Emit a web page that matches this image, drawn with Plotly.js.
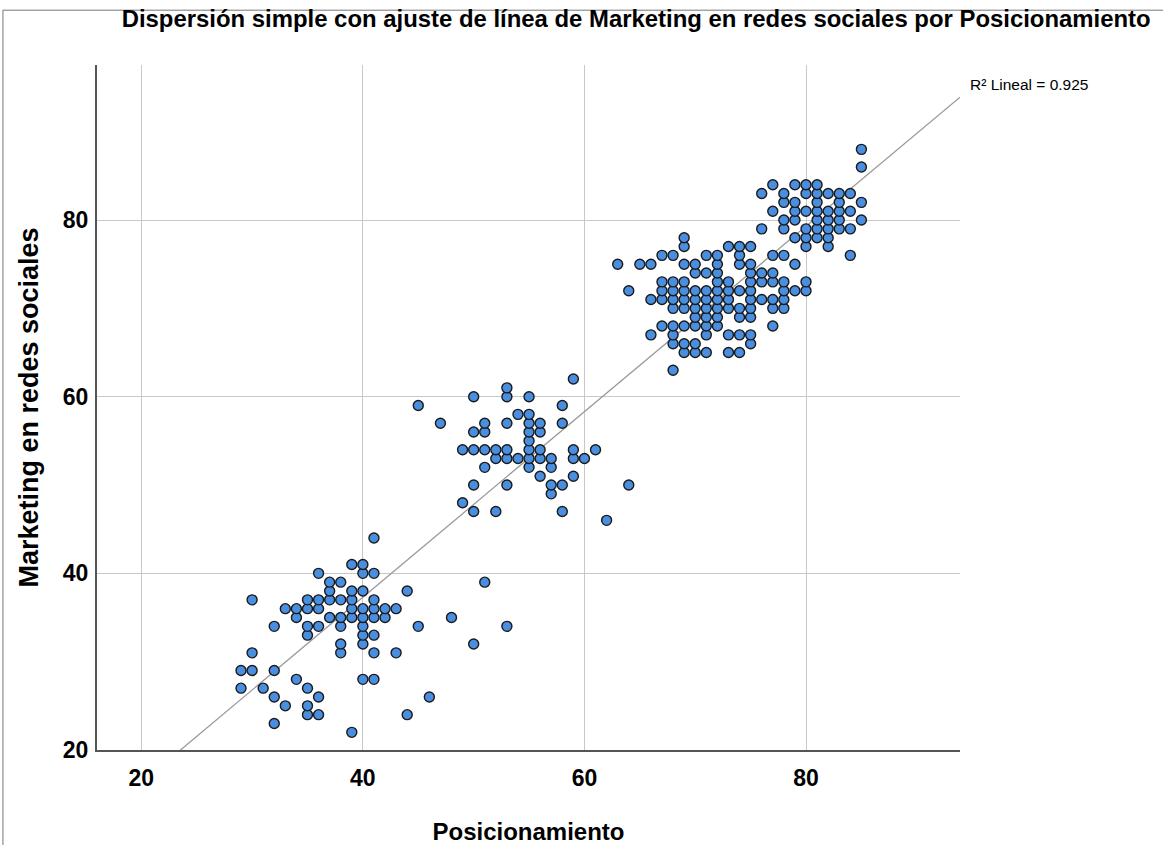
<!DOCTYPE html>
<html><head><meta charset="utf-8">
<script src="https://cdn.plot.ly/plotly-3.0.1.min.js"></script>
<style>body{margin:0;background:#fff}#chart{width:1163px;height:845px}</style>
</head><body><div id="chart"></div>
<script>
// Posicionamiento (x) values
const posicionamiento = [
29,29,30,30,30,31,32,32,32,32,33,33,34,34,34,35,35,35,35,35,35,35,36,36,36,36,36,36,37,37,37,37,38,38,38,38,38,38,39,39,39,39,39,39,40,40,40,40,40,40,40,40,40,41,41,41,41,41,41,41,41,42,42,43,43,44,44,45,46,48,50,51,53,
45,47,49,49,50,50,50,50,50,51,51,51,51,52,52,52,53,53,53,53,53,53,54,54,55,55,55,55,55,55,55,55,56,56,56,56,56,57,57,57,57,58,58,58,58,59,59,59,59,60,61,62,64,
63,64,65,66,66,66,67,67,67,67,67,68,68,68,68,68,68,68,68,68,69,69,69,69,69,69,69,69,69,69,70,70,70,70,70,70,70,70,70,71,71,71,71,71,71,71,71,71,
72,72,72,72,72,72,72,72,72,73,73,73,73,73,73,73,74,74,74,74,74,74,74,74,75,75,75,75,75,75,75,75,75,75,76,76,76,77,77,77,77,77,77,78,78,78,78,78,79,79,80,80,
76,76,77,77,78,78,78,78,79,79,79,79,79,80,80,80,80,80,80,81,81,81,81,81,81,81,82,82,82,82,82,82,83,83,83,83,83,84,84,84,84,85,85,85,85
];
// Marketing en redes sociales (y) values
const marketing = [
27,29,29,31,37,27,23,26,29,34,25,36,28,35,36,24,25,27,33,34,36,37,24,26,34,36,37,40,35,37,38,39,31,32,34,35,37,39,22,35,36,37,38,41,28,32,33,34,35,36,38,40,41,28,31,33,35,36,37,40,44,35,36,31,36,24,38,34,26,35,32,39,34,
59,57,48,54,47,50,54,56,60,52,54,56,57,47,53,54,50,53,54,57,60,61,53,58,52,53,54,55,56,57,58,60,51,53,54,56,57,49,50,52,53,47,50,57,59,51,53,54,62,53,54,46,50,
75,72,75,67,71,75,68,71,72,73,76,63,66,67,68,70,71,72,73,76,65,66,68,70,71,72,73,75,77,78,65,66,68,69,70,71,72,74,75,65,67,68,69,70,71,72,74,76,
68,69,70,71,72,73,74,75,76,65,67,70,71,72,73,77,65,67,69,70,72,75,76,77,66,67,69,70,71,72,73,74,75,77,71,73,74,68,70,71,73,74,76,70,71,72,73,76,72,75,72,73,
79,83,81,84,79,80,82,83,78,80,81,82,84,77,78,79,81,83,84,78,79,80,81,82,83,84,77,78,79,80,81,83,79,80,81,82,83,76,79,81,83,80,82,86,88
];
const xTicks = [20, 40, 60, 80];
const yTicks = [20, 40, 60, 80];
const r2Label = 'R² Lineal = 0.925';

// least-squares fit computed from the data
const n = posicionamiento.length;
const mx = posicionamiento.reduce((a,b)=>a+b,0)/n;
const my = marketing.reduce((a,b)=>a+b,0)/n;
let sxy=0, sxx=0;
for (let i=0;i<n;i++){ sxy+=(posicionamiento[i]-mx)*(marketing[i]-my); sxx+=(posicionamiento[i]-mx)**2; }
const slope = sxy/sxx, intercept = my - slope*mx;
const xRange = [16.0, 93.9], yRange = [20, 97.55];
const fx = [xRange[0], xRange[1]];
const fy = fx.map(v => intercept + slope*v);

const font = 'Liberation Sans, Arial, sans-serif';
const data = [
  {x: fx, y: fy, mode: 'lines', type: 'scatter', line: {color: '#9a9a9a', width: 1.3}, hoverinfo: 'skip', showlegend: false},
  {x: posicionamiento, y: marketing, mode: 'markers', type: 'scatter',
   marker: {size: 10, color: '#4a8edf', line: {color: '#1a1a1a', width: 1.4}}, showlegend: false}
];
const layout = {
  width: 1163, height: 845,
  margin: {l: 97, r: 203, t: 65, b: 95},
  paper_bgcolor: '#fff', plot_bgcolor: '#fff',
  font: {family: font, color: '#000'},
  title: {text: 'Dispersión simple con ajuste de línea de Marketing en redes sociales por Posicionamiento',
          font: {family: font, size: 23.9, color: '#000', weight: 'bold'}, x: 0.547, xanchor: 'center', y: 0.978, yanchor: 'middle'},
  xaxis: {range: xRange, tickvals: xTicks, ticktext: xTicks.map(String), showgrid: true, gridcolor: '#c8c8c8', gridwidth: 1,
          zeroline: false, showline: true, linecolor: '#555', linewidth: 2, ticks: 'outside', ticklen: 6, tickcolor: 'rgba(0,0,0,0)',
          tickfont: {family: font, size: 23, color: '#000', weight: 'bold'},
          title: {text: 'Posicionamiento', font: {family: font, size: 24, color: '#000', weight: 'bold'}, standoff: 34}},
  yaxis: {range: yRange, tickvals: yTicks, ticktext: yTicks.map(String), showgrid: true, gridcolor: '#c8c8c8', gridwidth: 1,
          zeroline: false, showline: true, linecolor: '#555', linewidth: 2, ticks: 'outside', ticklen: 2, tickcolor: 'rgba(0,0,0,0)',
          tickfont: {family: font, size: 23, color: '#000', weight: 'bold'},
          title: {text: 'Marketing en redes sociales', font: {family: font, size: 27, color: '#000', weight: 'bold'}, standoff: 16}},
  shapes: [{type: 'rect', xref: 'paper', yref: 'paper', x0: -0.109, x1: 1.6, y0: -0.5, y1: 1.080,
            line: {color: '#777', width: 1}, fillcolor: 'rgba(0,0,0,0)', layer: 'below'}],
  annotations: [{text: r2Label, xref: 'paper', yref: 'paper', x: 1.009, y: 0.971, xanchor: 'left', yanchor: 'middle',
                 showarrow: false, font: {family: font, size: 15.5, color: '#000'}}]
};
Plotly.newPlot('chart', data, layout, {displayModeBar: false});
</script></body></html>
